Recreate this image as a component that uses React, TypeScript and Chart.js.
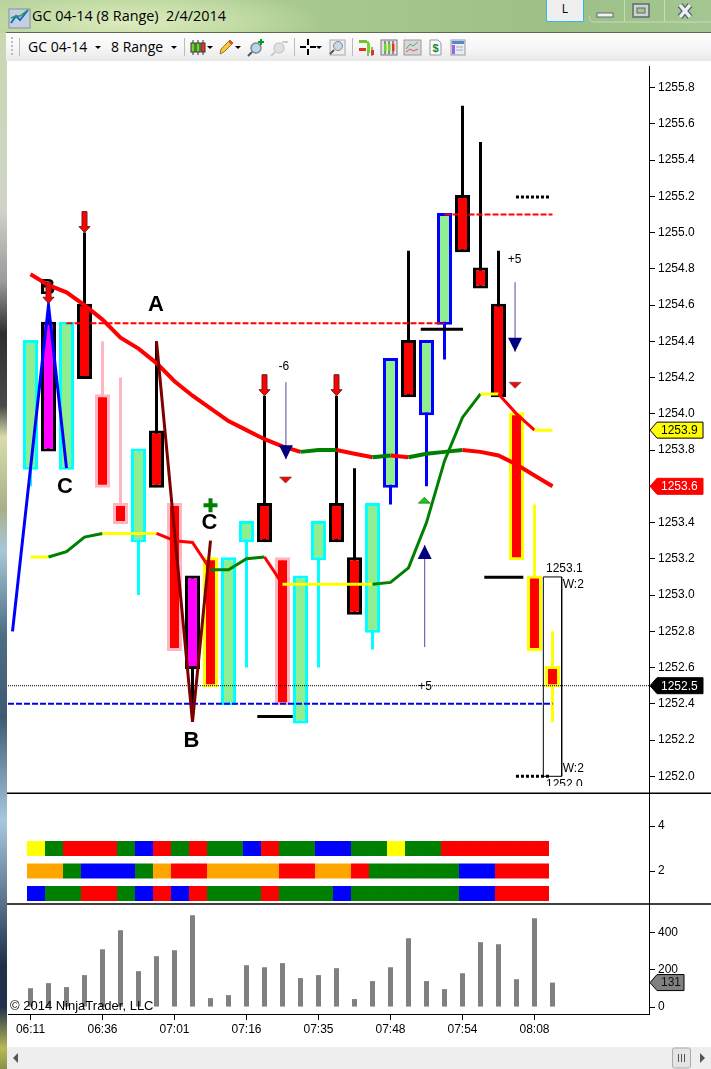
import { useEffect, useRef } from 'react';
import { Chart, registerables } from 'chart.js';

Chart.register(...registerables);

const FONT = '"Liberation Sans", Arial, sans-serif';
const UI_FONT = '"Open Sans", "Noto Sans", sans-serif';

// price panel, one entry per range bar
const bodyTop = [1254.4, 1254.5, 1254.5, 1254.6, 1254.1, 1253.5, 1253.8, 1253.9, 1253.5, 1253.1, 1253.2, 1253.2, 1253.4, 1253.5, 1253.2, 1253.1, 1253.4, 1253.5, 1253.2, 1253.5, 1254.3, 1254.4, 1254.4, 1255.1, 1255.2, 1254.8, 1254.6, 1254.0, 1253.1, 1252.6];
const bodyBottom = [1253.7, 1253.8, 1253.7, 1254.2, 1253.6, 1253.4, 1253.3, 1253.6, 1252.7, 1252.6, 1252.5, 1252.4, 1253.3, 1253.3, 1252.4, 1252.3, 1253.2, 1253.3, 1252.9, 1252.8, 1253.6, 1254.1, 1254.0, 1254.5, 1254.9, 1254.7, 1254.1, 1253.2, 1252.7, 1252.5];
const wickHigh = [1254.4, 1254.6, 1254.5, 1255.0, 1254.4, 1254.2, 1253.8, 1254.4, 1253.5, 1253.1, 1253.2, 1253.2, 1253.4, 1254.1, 1253.2, 1253.1, 1253.4, 1254.1, 1253.7, 1253.5, 1254.3, 1254.9, 1254.4, 1255.1, 1255.7, 1255.5, 1254.9, 1254.0, 1253.5, 1252.8];
const wickLow = [1253.6, 1253.8, 1253.7, 1254.2, 1253.6, 1253.4, 1253.0, 1253.6, 1252.7, 1252.3, 1252.5, 1252.4, 1252.6, 1253.3, 1252.4, 1252.3, 1252.6, 1253.3, 1252.9, 1252.7, 1253.5, 1254.1, 1253.6, 1254.3, 1254.9, 1254.7, 1254.1, 1253.2, 1252.7, 1252.3];
const barKind = ['cyan', 'magenta', 'cyan', 'black', 'pink', 'pink', 'cyan', 'black', 'pink', 'magenta', 'yellow', 'cyan', 'cyan', 'black', 'pink', 'cyan', 'cyan', 'black', 'black', 'cyan', 'blue', 'black', 'blue', 'blue', 'black', 'black', 'black', 'yellow', 'yellow', 'yellow'];

const slowAverage = [1254.77, 1254.71, 1254.67, 1254.60, 1254.52, 1254.42, 1254.36, 1254.28, 1254.18, 1254.10, 1254.03, 1253.96, 1253.91, 1253.86, 1253.82, 1253.79, 1253.80, 1253.80, 1253.78, 1253.76, 1253.77, 1253.76, 1253.78, 1253.79, 1253.80, 1253.79, 1253.77, 1253.72, 1253.66, 1253.60];
const slowColors = ['red', 'red', 'red', 'red', 'red', 'red', 'red', 'red', 'red', 'red', 'red', 'red', 'red', 'red', 'red', 'green', 'green', 'red', 'red', 'green', 'red', 'green', 'green', 'green', 'red', 'red', 'red', 'red', 'red'];
const fastAverage = [1253.21, 1253.21, 1253.24, 1253.32, 1253.34, 1253.34, 1253.34, 1253.34, 1253.30, 1253.29, 1253.14, 1253.14, 1253.20, 1253.21, 1253.06, 1253.06, 1253.06, 1253.06, 1253.06, 1253.06, 1253.07, 1253.15, 1253.40, 1253.74, 1253.98, 1254.11, 1254.11, 1254.00, 1253.91, 1253.91];
const fastColors = ['yellow', 'green', 'green', 'green', 'yellow', 'yellow', 'yellow', 'red', 'red', 'red', 'green', 'green', 'green', 'red', 'yellow', 'yellow', 'yellow', 'yellow', 'yellow', 'green', 'green', 'green', 'green', 'green', 'green', 'yellow', 'red', 'red', 'yellow'];

// ribbon panel
const ribbonRows = [3, 2, 1];
const ribbonTop = ['yellow', 'green', 'red', 'red', 'red', 'green', 'blue', 'red', 'green', 'red', 'green', 'green', 'blue', 'red', 'green', 'green', 'blue', 'blue', 'green', 'green', 'yellow', 'green', 'green', 'red', 'red', 'red', 'red', 'red', 'red'];
const ribbonMiddle = ['orange', 'orange', 'green', 'blue', 'blue', 'blue', 'green', 'orange', 'red', 'red', 'orange', 'orange', 'orange', 'orange', 'red', 'red', 'orange', 'orange', 'red', 'green', 'green', 'green', 'green', 'green', 'blue', 'blue', 'red', 'red', 'red'];
const ribbonBottom = ['blue', 'green', 'green', 'red', 'red', 'green', 'blue', 'red', 'blue', 'red', 'green', 'green', 'green', 'red', 'green', 'green', 'green', 'blue', 'green', 'green', 'green', 'green', 'green', 'green', 'blue', 'blue', 'red', 'red', 'red'];

// volume panel
const volume = [101, 128, 107, 171, 309, 411, 192, 272, 304, 491, 48, 64, 224, 213, 235, 155, 171, 208, 43, 139, 213, 368, 139, 96, 181, 347, 336, 149, 475, 131];

// axes
const priceTicks = [1252.0, 1252.2, 1252.4, 1252.6, 1252.8, 1253.0, 1253.2, 1253.4, 1253.6, 1253.8, 1254.0, 1254.2, 1254.4, 1254.6, 1254.8, 1255.0, 1255.2, 1255.4, 1255.6, 1255.8];
const ribbonTicks = [2, 4];
const volumeTicks = [0, 200, 400];
const timeLabels = ['06:11', '06:36', '07:01', '07:16', '07:35', '07:48', '07:54', '08:08'];
const timeTicks = [0, 4, 8, 12, 16, 20, 24, 28];

// drawing tools, placed as [bar, price]
const blueLeg = [[-1, 1252.8], [1, 1254.6], [2, 1253.7]];
const brownLeg = [[7, 1254.4], [9, 1252.3], [10, 1253.3]];
const dashedRed = [[[2, 1254.5], [23, 1254.5]], [[23, 1255.1], [29, 1255.1]]];
const dashedBlue = [[-1.25, 1252.4], [29, 1252.4]];
const lastPriceLine = [[-1.25, 1252.5], [34.36, 1252.5]];
const blackStops = [[[21.68, 1254.466], [24.03, 1254.466]], [[12.6, 1252.33], [14.57, 1252.33]], [[25.21, 1253.098], [27.38, 1253.098]]];
const dottedStops = [[[26.97, 1255.197], [28.86, 1255.197]], [[26.97, 1252.0], [28.86, 1252.0]]];
const rangeBox = [[28.49, 1253.1], [29.51, 1253.1], [29.51, 1252.0], [28.49, 1252.0], [28.49, 1253.1]];
const plusMark = [[10, 1253.496]];

const letterLabels = [
  { text: 'B', bar: 0.94, price: 1254.696 },
  { text: 'C', bar: 1.92, price: 1253.596 },
  { text: 'A', bar: 6.97, price: 1254.6 },
  { text: 'C', bar: 9.94, price: 1253.397 },
  { text: 'B', bar: 8.94, price: 1252.197 },
];
const smallLabels = [
  { text: '-6', bar: 14.08, price: 1254.258, align: 'center' },
  { text: '+5', bar: 21.92, price: 1252.493, align: 'center' },
  { text: '+5', bar: 26.89, price: 1254.848, align: 'center' },
  { text: '1253.1', bar: 28.64, price: 1253.143, align: 'left' },
  { text: 'W:2', bar: 29.57, price: 1253.055, align: 'left' },
  { text: 'W:2', bar: 29.57, price: 1252.04, align: 'left' },
  { text: '1252.0', bar: 28.64, price: 1251.952, align: 'left', cut: true },
];
const redArrowTips = [[1, 1254.61], [3, 1255.0], [13, 1254.1], [17, 1254.1]];
const navyArrows = [
  { bar: 14.19, from: 1254.175, to: 1253.75 },
  { bar: 21.9, from: 1252.713, to: 1253.276 },
  { bar: 26.92, from: 1254.726, to: 1254.342 },
];
const smallTriangles = [
  { bar: 14.17, price: 1253.651, dir: 1, fill: '#ff0000' },
  { bar: 26.92, price: 1254.174, dir: 1, fill: '#ff0000' },
  { bar: 21.88, price: 1253.507, dir: -1, fill: '#00d800' },
];
const priceTags = [
  { value: fastAverage[29], text: '1253.9', fill: '#ffff00', color: '#000', line: '#000' },
  { value: slowAverage[29], text: '1253.6', fill: '#ff0000', color: '#fff', line: '#ff0000' },
  { value: 1252.5, text: '1252.5', fill: '#000', color: '#fff', line: '#000' },
];

const kindStyle: Record<string, { border: string; fill: string }> = {
  cyan: { border: '#00ffff', fill: '#90ee90' },
  blue: { border: '#0000ff', fill: '#90ee90' },
  black: { border: '#000000', fill: '#ff0000' },
  magenta: { border: '#000000', fill: '#ff00ff' },
  pink: { border: '#ffb6c1', fill: '#ff0000' },
  yellow: { border: '#ffff00', fill: '#ff0000' },
};
const ribbonColor: Record<string, string> = { yellow: '#ffff00', green: '#008000', red: '#ff0000', blue: '#0000ff', orange: '#ffa500' };
const lineColor: Record<string, string> = { yellow: '#ffff00', green: '#008000', red: '#ff0000' };

const BODY_PAD = 0.008;

const points = (list: number[][]) => list.map(([x, y]) => ({ x, y }));

const setTicks = (list: number[]) => (scale: any) => {
  scale.ticks = list.map(value => ({ value }));
};
const fixWidth = (scale: any) => {
  scale.width = 62;
};

const plainLine = (data: number[][], color: string, width: number, dash: number[] = [], order = 1) => ({
  type: 'line' as const,
  data: points(data),
  xAxisID: 'x',
  yAxisID: 'y',
  borderColor: color,
  borderWidth: width,
  borderDash: dash,
  pointRadius: 0,
  tension: 0,
  order,
});

const drawingsPlugin = {
  id: 'drawings',
  beforeDatasetsDraw(chart: any) {
    const { ctx, scales } = chart;
    ctx.save();
    ctx.font = `bold 22px ${FONT}`;
    ctx.fillStyle = '#000';
    ctx.textAlign = 'center';
    ctx.textBaseline = 'middle';
    letterLabels.forEach(l => {
      ctx.fillText(l.text, scales.x.getPixelForValue(l.bar), scales.y.getPixelForValue(l.price));
    });
    ctx.restore();
  },
  afterDatasetsDraw(chart: any) {
    const { ctx, scales } = chart;
    const px = (bar: number) => scales.x.getPixelForValue(bar);
    const py = (price: number) => scales.y.getPixelForValue(price);
    ctx.save();

    redArrowTips.forEach(([bar, price]) => {
      const x = px(bar);
      const y = py(price);
      ctx.beginPath();
      ctx.moveTo(x, y);
      ctx.lineTo(x - 5.5, y - 6);
      ctx.lineTo(x - 2.5, y - 6);
      ctx.lineTo(x - 2.5, y - 21);
      ctx.lineTo(x + 2.5, y - 21);
      ctx.lineTo(x + 2.5, y - 6);
      ctx.lineTo(x + 5.5, y - 6);
      ctx.closePath();
      ctx.fillStyle = '#ff0000';
      ctx.fill();
      ctx.strokeStyle = '#702020';
      ctx.lineWidth = 1;
      ctx.stroke();
    });

    navyArrows.forEach(a => {
      const x = px(a.bar);
      const tail = py(a.from);
      const tip = py(a.to);
      const dir = tip > tail ? 1 : -1;
      ctx.beginPath();
      ctx.moveTo(x, tail);
      ctx.lineTo(x, tip);
      ctx.strokeStyle = 'rgba(0,0,128,0.7)';
      ctx.lineWidth = 1;
      ctx.stroke();
      ctx.beginPath();
      ctx.moveTo(x, tip);
      ctx.lineTo(x - 7, tip - dir * 14);
      ctx.lineTo(x + 7, tip - dir * 14);
      ctx.closePath();
      ctx.fillStyle = '#000080';
      ctx.fill();
    });

    smallTriangles.forEach(t => {
      const x = px(t.bar);
      const y = py(t.price);
      ctx.beginPath();
      ctx.moveTo(x - 6, y);
      ctx.lineTo(x + 6, y);
      ctx.lineTo(x, y + t.dir * 6);
      ctx.closePath();
      ctx.fillStyle = t.fill;
      ctx.fill();
      ctx.strokeStyle = '#505050';
      ctx.lineWidth = 0.7;
      ctx.stroke();
    });

    ctx.font = `12px ${FONT}`;
    ctx.fillStyle = '#000';
    ctx.textBaseline = 'middle';
    smallLabels.forEach(l => {
      ctx.save();
      if (l.cut) {
        ctx.beginPath();
        ctx.rect(0, 0, chart.width, py(1251.946));
        ctx.clip();
      }
      ctx.textAlign = l.align;
      ctx.fillText(l.text, px(l.bar), py(l.price));
      ctx.restore();
    });
    ctx.restore();
  },
  afterDraw(chart: any) {
    const { ctx, scales, chartArea, width } = chart;
    const tag = (yc: number, text: string, fill: string, color: string, line: string, right: number) => {
      const x = chartArea.right + 1;
      ctx.beginPath();
      ctx.moveTo(x, yc);
      ctx.lineTo(x + 7, yc - 8);
      ctx.lineTo(right, yc - 8);
      ctx.lineTo(right, yc + 8);
      ctx.lineTo(x + 7, yc + 8);
      ctx.closePath();
      ctx.fillStyle = fill;
      ctx.fill();
      ctx.strokeStyle = line;
      ctx.lineWidth = 1;
      ctx.stroke();
      ctx.fillStyle = color;
      ctx.font = `12px ${FONT}`;
      ctx.textAlign = 'left';
      ctx.textBaseline = 'middle';
      ctx.fillText(text, x + 11, yc + 0.5);
    };
    ctx.save();
    // panel separators run on under the price scale, the x axis does not
    ctx.strokeStyle = '#000';
    ctx.lineWidth = 1.5;
    [scales.y.bottom, scales.yRibbon.bottom].forEach(y => {
      ctx.beginPath();
      ctx.moveTo(chartArea.left - 1, y);
      ctx.lineTo(width, y);
      ctx.stroke();
    });
    priceTags.forEach(t => tag(scales.y.getPixelForValue(t.value), t.text, t.fill, t.color, t.line, 703));
    tag(scales.yVolume.getPixelForValue(volume[29]), String(volume[29]), '#808080', '#101010', '#000', 684);

    ctx.font = `13px ${FONT}`;
    ctx.fillStyle = '#000';
    ctx.textAlign = 'left';
    ctx.textBaseline = 'middle';
    ctx.fillText('© 2014 NinjaTrader, LLC', 10, scales.yVolume.bottom - 7.5);
    ctx.restore();
  },
};

const PriceChart = () => {
  const canvasRef = useRef<HTMLCanvasElement>(null);

  useEffect(() => {
    if (!canvasRef.current) return;

    const bars = barKind.map((_, i) => i);
    const ribbonSets = [ribbonTop, ribbonMiddle, ribbonBottom].map((row, r) => ({
      type: 'bar' as const,
      data: row.map((_, k) => ({ x: k, y: [ribbonRows[r] - 0.33, ribbonRows[r] + 0.33] })),
      xAxisID: 'xRibbon',
      yAxisID: 'yRibbon',
      backgroundColor: row.map(c => ribbonColor[c]),
      borderWidth: 0,
      barThickness: 18,
      maxBarThickness: 18,
      grouped: false,
      inflateAmount: 0,
      order: 9,
    }));

    const chart = new Chart(canvasRef.current, {
      type: 'bar',
      data: {
        datasets: [
          {
            type: 'bar',
            data: bars.map(i => ({ x: i, y: [wickLow[i], wickHigh[i]] })),
            xAxisID: 'x',
            yAxisID: 'y',
            backgroundColor: barKind.map(k => kindStyle[k].border),
            borderWidth: 0,
            barThickness: 3,
            maxBarThickness: 3,
            grouped: false,
            inflateAmount: 0,
            order: 8,
          },
          {
            type: 'bar',
            data: bars.map(i => ({ x: i, y: [bodyBottom[i] - BODY_PAD, bodyTop[i] + BODY_PAD] })),
            xAxisID: 'x',
            yAxisID: 'y',
            backgroundColor: barKind.map(k => kindStyle[k].fill),
            borderColor: barKind.map(k => kindStyle[k].border),
            borderWidth: 3,
            borderSkipped: false,
            barThickness: 15,
            maxBarThickness: 15,
            grouped: false,
            inflateAmount: 0,
            order: 7,
          },
          {
            type: 'bar',
            data: volume.map((v, i) => ({ x: i, y: v })),
            xAxisID: 'x',
            yAxisID: 'yVolume',
            backgroundColor: '#808080',
            borderWidth: 0,
            barThickness: 5,
            maxBarThickness: 5,
            grouped: false,
            inflateAmount: 0,
            order: 9,
          },
          ...ribbonSets,
          plainLine(rangeBox, '#000', 1, [], 10),
          plainLine(lastPriceLine, '#000', 1, [1, 1], 6),
          plainLine(dashedBlue, '#0000ff', 2, [6, 2], 5),
          ...dashedRed.map(l => plainLine(l, '#ff0000', 2, [6, 2], 5)),
          ...blackStops.map(l => plainLine(l, '#000', 3, [], 5)),
          ...dottedStops.map(l => plainLine(l, '#000', 3, [3, 2], 5)),
          {
            type: 'line',
            data: bars.map(i => ({ x: i, y: slowAverage[i] })),
            xAxisID: 'x',
            yAxisID: 'y',
            borderWidth: 4,
            borderColor: '#ff0000',
            segment: { borderColor: (c: any) => lineColor[slowColors[c.p0DataIndex]] },
            pointRadius: 0,
            tension: 0,
            order: 4,
          },
          {
            type: 'line',
            data: bars.map(i => ({ x: i, y: fastAverage[i] })),
            xAxisID: 'x',
            yAxisID: 'y',
            borderWidth: 3,
            borderColor: '#008000',
            segment: { borderColor: (c: any) => lineColor[fastColors[c.p0DataIndex]] },
            pointRadius: 0,
            tension: 0,
            order: 3,
          },
          plainLine(blueLeg, '#0000ff', 3, [], 2),
          plainLine(brownLeg, '#800000', 3, [], 2),
          {
            type: 'line',
            data: points(plusMark),
            xAxisID: 'x',
            yAxisID: 'y',
            showLine: false,
            pointStyle: 'cross',
            pointRadius: 7,
            pointBorderColor: '#008000',
            pointBorderWidth: 4,
            order: 1,
          },
        ] as any,
      },
      options: {
        animation: false,
        responsive: false,
        events: [],
        layout: { autoPadding: false, padding: { left: 8, top: 0, right: 0, bottom: 0 } },
        plugins: { legend: { display: false }, tooltip: { enabled: false } },
        scales: {
          x: {
            type: 'linear',
            axis: 'x',
            position: 'bottom',
            offset: false,
            min: -1.25,
            max: 34.361,
            afterBuildTicks: setTicks(timeTicks),
            afterFit: (scale: any) => {
              scale.height = 33;
            },
            grid: { drawOnChartArea: false, offset: false, tickLength: 6, tickColor: '#000' },
            border: { color: '#000', width: 1 },
            ticks: {
              autoSkip: false,
              maxRotation: 0,
              padding: 2,
              color: '#000',
              font: { family: FONT, size: 12 },
              callback: (value: any) => timeLabels[timeTicks.indexOf(value)],
            },
          },
          xRibbon: {
            type: 'linear',
            axis: 'x',
            display: false,
            offset: false,
            min: -1.5556,
            max: 34.0556,
            afterBuildTicks: setTicks(timeTicks),
            grid: { offset: false },
          },
          y: {
            type: 'linear',
            position: 'right',
            stack: 'panels',
            stackWeight: 727.3,
            weight: 1,
            min: 1251.906,
            max: 1255.918,
            afterBuildTicks: setTicks(priceTicks),
            afterFit: fixWidth,
            grid: { drawOnChartArea: false, tickLength: 6, tickColor: '#000' },
            border: { color: '#000', width: 1 },
            ticks: {
              autoSkip: false,
              padding: 3,
              color: '#000',
              font: { family: FONT, size: 12 },
              callback: (value: any) => Number(value).toFixed(1),
            },
          },
          yRibbon: {
            type: 'linear',
            position: 'right',
            stack: 'panels',
            stackWeight: 110.7,
            weight: 2,
            min: 0.533,
            max: 5.453,
            afterBuildTicks: setTicks(ribbonTicks),
            afterFit: fixWidth,
            grid: { drawOnChartArea: false, tickLength: 6, tickColor: '#000' },
            border: { color: '#000', width: 1 },
            ticks: { autoSkip: false, padding: 3, color: '#000', font: { family: FONT, size: 12 } },
          },
          yVolume: {
            type: 'linear',
            position: 'right',
            stack: 'panels',
            stackWeight: 110,
            weight: 3,
            min: -37,
            max: 551,
            afterBuildTicks: setTicks(volumeTicks),
            afterFit: fixWidth,
            grid: { drawOnChartArea: false, tickLength: 6, tickColor: '#000' },
            border: { color: '#000', width: 1 },
            ticks: { autoSkip: false, padding: 3, color: '#000', font: { family: FONT, size: 12 } },
          },
        },
      } as any,
      plugins: [drawingsPlugin],
    });

    return () => chart.destroy();
  }, []);

  // the layout leaves 10px above the first panel, so the canvas starts that much higher
  return <canvas ref={canvasRef} width={711} height={991} style={{ position: 'absolute', left: 0, top: 56, display: 'block' }} />;
};

const Caret = ({ x }: { x: number }) => <path d={`M${x - 3} 46h6l-3 3z`} fill="#000" />;

const ToolbarIcons = () => (
  <svg width={711} height={28} viewBox="0 33 711 28" style={{ position: 'absolute', left: 0, top: 33 }}>
    <g fill="#bbb">
      <rect x={11} y={37} width={2} height={2} />
      <rect x={11} y={41} width={2} height={2} />
      <rect x={11} y={45} width={2} height={2} />
      <rect x={11} y={49} width={2} height={2} />
      <rect x={11} y={53} width={2} height={2} />
    </g>
    <g stroke="#bbb">
      <path d="M19.5 38v18M184.5 38v18M294.5 38v18M352.5 38v18" />
    </g>
    <Caret x={98} />
    <Caret x={174} />
    <Caret x={210} />
    <Caret x={238} />
    <Caret x={319} />
    <g stroke="#333" strokeWidth={1}>
      <path d="M193 40v15M198 40v15M203 40v15" />
      <rect x={191} y={43} width={4} height={9} fill="#66dd22" />
      <rect x={196} y={43} width={4} height={9} fill="#66dd22" />
      <rect x={201} y={43} width={4} height={9} fill="#ee3322" />
    </g>
    <path d="M220 54l1-5 9-9 3 3-9 9z" fill="#f5c842" stroke="#a07820" />
    <path d="M229 41l3 3" stroke="#e04040" strokeWidth={2} />
    <g>
      <circle cx={256} cy={48} r={5} fill="#b8d4ee" stroke="#888" strokeWidth={1.5} />
      <path d="M252 52l-4 4" stroke="#555" strokeWidth={2} />
      <path d="M261 39v6M258 42h6" stroke="#00a020" strokeWidth={2} />
    </g>
    <g>
      <circle cx={279} cy={48} r={5} fill="#e0e0e0" stroke="#ccc" strokeWidth={1.5} />
      <path d="M275 52l-4 4" stroke="#ccc" strokeWidth={2} />
      <path d="M282 42h6" stroke="#ccc" strokeWidth={2} />
    </g>
    <path d="M308 39v6M308 49v6M300 47h6M310 47h6" stroke="#000" strokeWidth={2} />
    <g>
      <rect x={330} y={40} width={15} height={15} fill="#eee" stroke="#aaa" />
      <circle cx={338} cy={46} r={4.5} fill="#c4d8ee" stroke="#888" />
      <path d="M334 50l-4 4" stroke="#555" strokeWidth={2} />
    </g>
    <g>
      <rect x={359} y={40} width={8} height={3} fill="#66cc22" />
      <rect x={359} y={48} width={7} height={3} fill="#dd3322" />
      <path d="M368 41v15M372 47v9" stroke="#555" />
      <rect x={367} y={43} width={3} height={10} fill="#66dd22" />
      <rect x={371} y={50} width={3} height={5} fill="#dd3322" />
    </g>
    <g>
      <rect x={381} y={40} width={16} height={15} fill="#e4e4e4" stroke="#777" />
      <path d="M385 41v13M389 41v13M393 41v13" stroke="#333" />
      <rect x={384} y={44} width={2.5} height={7} fill="#66dd22" />
      <rect x={388} y={44} width={2.5} height={7} fill="#66dd22" />
      <rect x={392} y={44} width={2.5} height={7} fill="#ee3322" />
    </g>
    <g>
      <rect x={404} y={40} width={17} height={15} fill="#d8d8d8" stroke="#999" />
      <path d="M406 49l4-5 3 2 5-4" fill="none" stroke="#55aa66" />
      <path d="M406 52l4-3 3 2 5-2" fill="none" stroke="#dd5566" />
    </g>
    <g>
      <path d="M430 40h8l3 3v12h-11z" fill="#fafafa" stroke="#999" />
      <text x={435.5} y={52} textAnchor="middle" fontSize={11} fontWeight="bold" fill="#118833" fontFamily={FONT}>$</text>
    </g>
    <g>
      <rect x={451} y={40} width={14} height={15} fill="#e8ecf4" stroke="#999" />
      <rect x={452} y={41} width={12} height={3} fill="#5588cc" />
      <rect x={452} y={45} width={3} height={9} fill="#9966dd" />
      <path d="M456 47h7M456 50h7" stroke="#aab" />
    </g>
  </svg>
);

const WindowChrome = () => (
  <>
    <div
      style={{
        position: 'absolute',
        left: 0,
        top: 0,
        width: 711,
        height: 33,
        background:
          'radial-gradient(ellipse 190px 36px at 130px 22px, #dcebbd 0%, #c4dca6 55%, rgba(170,203,140,0) 100%), linear-gradient(90deg, #b4cf9a 0%, #a6c88c 50%, #9cc086 78%, #a4c692 100%)',
      }}
    />
    <div
      style={{
        position: 'absolute',
        left: 0,
        top: 33,
        width: 7,
        height: 1036,
        background:
          'linear-gradient(180deg, #c8d8b0 0%, #d0d4c8 17%, #9a9a9a 24%, #2e2e2e 29%, #4a4a4a 36%, #d8dcaa 39%, #a8b088 46%, #a8c8d8 50%, #4e6e84 58%, #3e5a70 66%, #a8c8e0 76%, #1e3048 90%, #20304a 94%, #b8b858 98%, #8a9048 100%)',
      }}
    />
    <svg width={28} height={24} style={{ position: 'absolute', left: 8, top: 6 }}>
      <rect x={1} y={3} width={21} height={19} fill="#c4d0e0" stroke="#8090a8" />
      <path d="M3 17l5-7 4 4 8-10" fill="none" stroke="#1a6ad0" strokeWidth={2} />
      <path d="M3 12l5-2 4 0 8-6" fill="none" stroke="#20a040" strokeWidth={1.5} />
    </svg>
    <div style={{ position: 'absolute', left: 32, top: 6, font: `14.4px ${UI_FONT}`, color: '#000', whiteSpace: 'pre', lineHeight: '20px' }}>
      {'GC 04-14 (8 Range)  2/4/2014'}
    </div>
    <div
      style={{
        position: 'absolute',
        left: 546,
        top: 0,
        width: 38,
        height: 22,
        boxSizing: 'border-box',
        border: '1px solid #30b8e8',
        borderTop: 'none',
        borderRadius: '0 0 2px 2px',
        background: '#efefef',
        textAlign: 'center',
        font: `12px ${UI_FONT}`,
        lineHeight: '18px',
        color: '#000',
      }}
    >
      L
    </div>
    <svg width={130} height={24} style={{ position: 'absolute', left: 581, top: 0 }}>
      <path d="M8.5 16 q0 6 4 6 H130 M43.5 0v22M83.5 0v22" fill="none" stroke="#d0e4c0" strokeOpacity={0.8} />
      <rect x={16} y={13} width={16} height={4} fill="#f0f4f0" stroke="#606a70" />
      <rect x={52} y={4} width={16} height={13} fill="#c8d4cc" stroke="#606a70" strokeWidth={1.5} />
      <rect x={56} y={8} width={8} height={5} fill="#a8c090" stroke="#606a70" />
      <path d="M99 5l10 12M109 5l-10 12" stroke="#5a6670" strokeWidth={6} />
      <path d="M99 5l10 12M109 5l-10 12" stroke="#eef0f0" strokeWidth={3.5} />
    </svg>
    <div style={{ position: 'absolute', left: 6, top: 32, width: 705, height: 1, background: '#5c6a50' }} />
    <div style={{ position: 'absolute', left: 6, top: 33, width: 705, height: 28, background: 'linear-gradient(180deg, #fdfdfd 0%, #f6f6f6 55%, #e9e9e9 100%)' }} />
    <div style={{ position: 'absolute', left: 7, top: 61, width: 704, height: 986, background: '#fff' }} />
    <div style={{ position: 'absolute', left: 28, top: 37, font: `14px ${UI_FONT}`, color: '#000', lineHeight: '20px' }}>GC 04-14</div>
    <div style={{ position: 'absolute', left: 111, top: 37, font: `14px ${UI_FONT}`, color: '#000', lineHeight: '20px' }}>8 Range</div>
    <ToolbarIcons />
    <div style={{ position: 'absolute', left: 7, top: 1047, width: 704, height: 22, background: '#eeeeee' }} />
    <svg width={711} height={22} style={{ position: 'absolute', left: 0, top: 1047 }}>
      <path d="M13 11l5-5v10z" fill="#555" />
      <path d="M700 6l5 5-5 5z" fill="#555" />
      <rect x={672.5} y={1} width={18} height={20} rx={2} fill="#e4e4e4" stroke="#aaa" />
      <path d="M678.5 7v8M681.5 7v8M684.5 7v8" stroke="#555" />
    </svg>
  </>
);

const App = () => (
  <div style={{ position: 'fixed', left: 0, top: 0, width: 711, height: 1069, overflow: 'hidden', background: '#fff' }}>
    <WindowChrome />
    <PriceChart />
  </div>
);

export default App;
